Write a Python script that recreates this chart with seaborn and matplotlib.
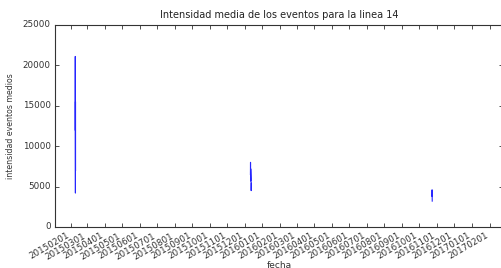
import pandas as pd
import seaborn as sns
import matplotlib.pyplot as plt
import matplotlib.dates as mdates

# Data: a few intraday readings per day, three days with events
fechas = ["2015-02-08 06:00", "2015-02-08 09:00", "2015-02-08 12:00", "2015-02-08 15:00",
          "2015-02-08 18:00", "2015-02-08 21:00",
          "2015-12-11 06:00", "2015-12-11 10:00", "2015-12-11 14:00", "2015-12-11 18:00",
          "2015-12-12 08:00", "2015-12-12 14:00", "2015-12-12 20:00",
          "2016-10-23 06:00", "2016-10-23 12:00", "2016-10-23 18:00"]
intensidad = [12000, 21100, 9000, 4200, 15500, 7000,
              6500, 8000, 5700, 7200,
              6000, 4500, 5400,
              3800, 4600, 3200]
grupo = [1, 1, 1, 1, 1, 1,
         2, 2, 2, 2, 2, 2, 2,
         3, 3, 3]

df = pd.DataFrame({"fecha": pd.to_datetime(fechas), "intensidad": intensidad, "grupo": grupo})

plt.style.use("classic")
plt.rcParams["font.family"] = ["DejaVu Sans"]

fig = plt.figure(figsize=(5.02, 2.68), dpi=100)
fig.patch.set_facecolor("white")
ax = fig.add_axes([0.1096, 0.153, 0.892, 0.754])

sns.lineplot(data=df, x="fecha", y="intensidad", units="grupo", estimator=None,
             color="b", linewidth=0.8, alpha=0.85, ax=ax)

ax.set_xlim(pd.Timestamp("2015-01-04"), pd.Timestamp("2017-02-24"))
ax.set_ylim(0, 25000)
ax.set_yticks([0, 5000, 10000, 15000, 20000, 25000])
ax.xaxis.set_major_locator(mdates.MonthLocator(bymonthday=1))
ax.xaxis.set_major_formatter(mdates.DateFormatter("%Y%m%d"))
ax.tick_params(labelsize=6.3, length=3, width=0.6, pad=3, colors="#333333")
for lbl in ax.get_xticklabels():
    lbl.set_rotation(30)
    lbl.set_ha("right")
for s in ax.spines.values():
    s.set_linewidth(0.8)
    s.set_color("#333333")

ax.set_title("Intensidad media de los eventos para la linea 14", fontsize=7, color="#222222")
ax.set_xlabel("fecha", fontsize=6.5, color="#333333", labelpad=0)
ax.set_ylabel("intensidad eventos medios", fontsize=5.6, color="#333333", labelpad=6)

fig.savefig("out.png", dpi=100, facecolor="white")
